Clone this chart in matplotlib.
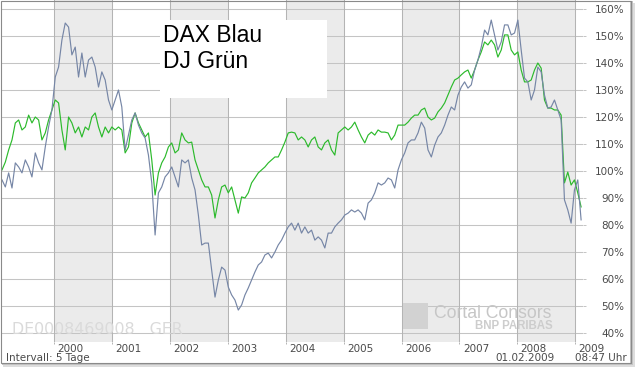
import matplotlib
matplotlib.use("Agg")
import matplotlib.pyplot as plt
import matplotlib.transforms as mtransforms
from matplotlib.patches import Rectangle
import pandas as pd

# ---- data (3-week sampling of weekly chart, % of start value) ----
start_date = "1999-02-06"
n_points = 175
sample_freq = "21D"

dax = [96.7, 94.1, 99.3, 93.7, 103.0, 101.5, 99.3, 104.1, 101.5, 97.8,
       106.7, 103.0, 100.4, 108.9, 116.3, 122.6, 134.8, 138.5, 148.5, 154.8,
       153.3, 143.0, 145.9, 134.8, 143.7, 134.8, 141.1, 142.2, 138.5, 131.1,
       136.7, 133.7, 126.3, 122.6, 126.3, 130.0, 123.7, 107.8, 113.3, 118.9,
       121.5, 117.0, 114.1, 112.2, 105.9, 95.6, 76.3, 91.9, 94.1, 97.8,
       99.3, 101.5, 97.8, 94.1, 104.1, 103.0, 104.1, 97.4, 93.0, 83.7,
       72.6, 73.3, 73.3, 63.3, 53.3, 59.6, 64.4, 63.3, 57.0, 54.1,
       52.2, 48.5, 50.4, 54.1, 56.7, 59.6, 62.6, 65.2, 66.3, 68.9,
       69.6, 67.8, 70.0, 72.6, 74.4, 77.0, 79.3, 80.7, 78.1, 80.7,
       77.0, 79.3, 77.0, 78.1, 74.4, 75.6, 74.4, 71.5, 77.0, 77.0,
       79.3, 80.7, 81.9, 83.7, 84.4, 85.6, 84.8, 85.6, 84.4, 81.9,
       88.1, 89.3, 91.9, 95.6, 94.8, 95.6, 97.4, 96.7, 93.7, 100.4,
       104.1, 106.7, 110.4, 111.5, 111.5, 114.1, 118.1, 115.9, 107.8, 105.2,
       109.6, 112.6, 114.1, 117.0, 120.7, 123.7, 122.6, 128.1, 131.1, 133.0,
       130.7, 131.9, 137.4, 141.1, 145.9, 152.2, 150.4, 155.9, 150.4, 144.8,
       147.8, 154.1, 154.1, 150.4, 151.1, 155.9, 144.8, 134.4, 133.0, 126.3,
       130.0, 138.5, 136.7, 128.1, 123.3, 123.7, 126.3, 122.6, 118.9, 89.3,
       85.6, 80.7, 93.0, 96.7, 81.9]

dj = [100.4, 103.3, 107.8, 111.5, 117.8, 118.9, 115.2, 116.3, 120.7, 117.8,
      120.0, 118.9, 111.5, 114.1, 118.9, 122.6, 126.3, 125.2, 115.2, 107.8,
      120.0, 117.8, 114.1, 116.3, 112.6, 116.3, 115.2, 120.0, 121.5, 116.3,
      112.6, 116.3, 114.1, 116.3, 115.2, 116.3, 115.2, 106.7, 108.9, 117.8,
      121.5, 117.8, 115.2, 112.6, 114.1, 104.1, 91.1, 99.3, 103.0, 105.2,
      108.9, 110.4, 106.7, 107.8, 114.1, 111.5, 110.4, 110.7, 104.1, 100.4,
      96.7, 94.1, 94.1, 91.1, 82.6, 89.3, 94.1, 94.8, 91.9, 94.1,
      89.3, 84.4, 90.4, 90.0, 91.9, 95.6, 97.4, 99.3, 100.4, 101.5,
      103.0, 104.1, 105.2, 105.2, 107.8, 110.7, 114.1, 114.4, 114.1, 111.5,
      112.6, 111.5, 108.9, 111.5, 112.6, 108.9, 107.8, 110.4, 111.5, 107.8,
      105.9, 114.1, 115.2, 116.3, 115.2, 116.3, 118.1, 115.2, 112.6, 110.4,
      113.3, 114.4, 113.3, 115.2, 114.4, 114.4, 114.1, 111.5, 113.3, 117.0,
      117.0, 117.0, 118.1, 119.6, 120.7, 120.7, 122.6, 123.3, 120.0, 118.9,
      119.6, 121.9, 123.3, 125.2, 128.1, 131.1, 133.7, 134.4, 135.6, 136.7,
      137.4, 134.4, 137.4, 141.1, 144.1, 147.8, 146.7, 148.5, 146.7, 142.2,
      144.8, 150.4, 150.4, 144.8, 143.0, 144.1, 137.4, 133.0, 133.0, 133.7,
      137.4, 140.0, 138.1, 126.3, 123.3, 123.3, 122.6, 122.6, 120.7, 95.6,
      99.6, 94.8, 96.7, 91.9, 86.7]

years = list(range(2000, 2010))
shaded_years = [2000, 2002, 2004, 2006, 2008]
ytick_vals = list(range(40, 161, 10))
ytick_labels = [f"{v}%" for v in ytick_vals]

dates = pd.date_range(start_date, periods=n_points, freq=sample_freq)

# ---- figure ----
W, H = 640, 370
fig = plt.figure(figsize=(W / 100, H / 100), dpi=100, facecolor="white")


def fx(px):
    return px / W


def fy(py):
    return 1 - py / H


ax = fig.add_axes([fx(2), fy(342), fx(581), 342 / H])
ax.set_facecolor("white")
for s in ax.spines.values():
    s.set_visible(False)

ax.set_xlim(pd.Timestamp("1999-02-06"), pd.Timestamp("2009-02-19"))
ax.set_ylim(36.67, 163.33)

for y in shaded_years:
    ax.axvspan(pd.Timestamp(f"{y}-01-01"), pd.Timestamp(f"{y + 1}-01-01"),
               color="#ebebeb", lw=0, zorder=0)

# gridlines
for v in ytick_vals:
    ax.axhline(v, color="#c4c4c4", lw=0.75, zorder=1)
for y in years:
    ax.axvline(pd.Timestamp(f"{y}-01-01"), color="#b4b4b4", lw=0.75, zorder=1)

# watermarks
ax.text(fx(12), fy(330), "DE0008469008   GER", transform=fig.transFigure,
        fontsize=11.4, color="#dadada", va="center", ha="left", zorder=1.5)
ax.add_patch(Rectangle((fx(403), fy(329)), fx(25), 26 / H, transform=fig.transFigure,
                       facecolor="#d2d2d2", edgecolor="none", zorder=1.5))
ax.text(fx(434), fy(313), "Cortal Consors", transform=fig.transFigure,
        fontsize=12.7, family="Liberation Sans", color="#c6c6c6",
        va="center", ha="left", zorder=1.5)
ax.text(fx(553), fy(326), "BNP PARIBAS", transform=fig.transFigure,
        fontsize=8.3, family="Liberation Sans", fontweight="bold", color="#cdcdcd",
        va="center", ha="right", zorder=1.5)

# legend box
ax.add_patch(Rectangle((fx(160), fy(98)), fx(167), 78 / H, transform=fig.transFigure,
                       facecolor="white", edgecolor="none", zorder=2))
ax.text(fx(163), fy(42), "DAX Blau", transform=fig.transFigure, fontsize=16.5,
        family="Liberation Sans", color="black", va="baseline", ha="left", zorder=3)
ax.text(fx(163), fy(68), "DJ Grün", transform=fig.transFigure, fontsize=16.5,
        family="Liberation Sans", color="black", va="baseline", ha="left", zorder=3)

# series
ax.plot(dates, dj, color="#2cba2c", lw=0.85, zorder=4)
ax.plot(dates, dax, color="#7686a6", lw=0.85, zorder=5)

# y axis on right
ax.yaxis.tick_right()
ax.set_yticks(ytick_vals)
ax.set_yticklabels(ytick_labels)
ax.tick_params(axis="y", length=2.2, width=0.7, color="#c4c4c4", pad=27.4,
               labelsize=7.5, labelcolor="#4a4a4a")
for lbl in ax.get_yticklabels():
    lbl.set_horizontalalignment("right")

# x axis years
ax.set_xticks([pd.Timestamp(f"{y}-01-01") for y in years])
ax.set_xticklabels([str(y) for y in years])
ax.tick_params(axis="x", length=1.5, width=0.7, color="#b4b4b4", pad=0,
               labelsize=7.5, labelcolor="#4a4a4a")
off = mtransforms.ScaledTranslation(3.5 / 100, 0, fig.dpi_scale_trans)
for lbl in ax.get_xticklabels():
    lbl.set_horizontalalignment("left")
    lbl.set_transform(lbl.get_transform() + off)

# footer texts
fig.text(fx(6), fy(358), "Intervall: 5 Tage", fontsize=7.5, color="#4a4a4a",
         va="center", ha="left")
fig.text(fx(555), fy(358), "01.02.2009", fontsize=7.5, color="#4a4a4a",
         va="center", ha="right")
fig.text(fx(627), fy(358), "08:47 Uhr", fontsize=7.5, color="#4a4a4a",
         va="center", ha="right")

# shadow and frame
fig.add_artist(Rectangle((fx(3), fy(367)), fx(632), 364 / H, transform=fig.transFigure,
                         facecolor="#dddddd", edgecolor="none", zorder=-3))
fig.add_artist(Rectangle((fx(2), fy(365)), fx(631), 364 / H, transform=fig.transFigure,
                         facecolor="#c4c4c4", edgecolor="none", zorder=-2))
fig.add_artist(Rectangle((fx(0), fy(363)), fx(630), 363 / H, transform=fig.transFigure,
                         facecolor="white", edgecolor="none", zorder=-1))
fig.add_artist(Rectangle((fx(0.5), fy(363)), fx(630), 362.5 / H, transform=fig.transFigure,
                         facecolor="none", edgecolor="#8a8a8a", lw=0.8, zorder=10))

fig.savefig("out.png", dpi=100, facecolor="white")
